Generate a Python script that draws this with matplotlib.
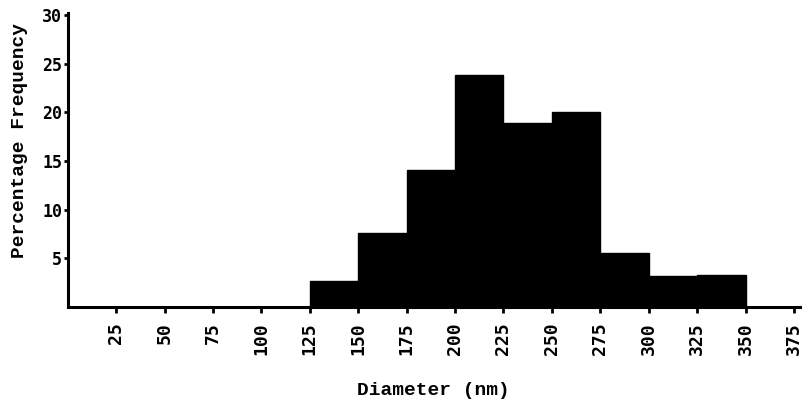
import matplotlib
matplotlib.use('Agg')
from matplotlib import pyplot as plt

# histogram bins (nm) and percentage frequency
bin_left = [125, 150, 175, 200, 225, 250, 275, 300, 325]
freq = [2.7, 7.6, 14.1, 23.8, 18.9, 20.0, 5.6, 3.2, 3.3]
xticks = [25, 50, 75, 100, 125, 150, 175, 200, 225, 250, 275, 300, 325, 350, 375]
yticks = [5, 10, 15, 20, 25, 30]

mono = 'Liberation Mono'

fig = plt.figure(figsize=(8.07, 4.04), dpi=100)
ax = fig.add_axes([0.084, 0.240, 0.907, 0.728])

ax.bar(bin_left, freq, width=25, align='edge', color='black', edgecolor='black', linewidth=1)

ax.set_xlim(0, 378)
ax.set_ylim(0, 30.2)
ax.spines['top'].set_visible(False)
ax.spines['right'].set_visible(False)
ax.spines['left'].set_linewidth(2.2)
ax.spines['bottom'].set_linewidth(2.2)

ax.set_xticks(xticks)
ax.set_xticklabels([str(t) for t in xticks], rotation=90, va='top',
                   fontfamily='DejaVu Sans Mono', fontweight='bold', fontsize=13)
ax.set_yticks(yticks)
ax.set_yticklabels([str(t) for t in yticks],
                   fontfamily='DejaVu Sans Mono', fontweight='bold', fontsize=12)
ax.tick_params(axis='x', length=4, width=2, pad=7)
ax.tick_params(axis='y', length=3, width=2, pad=1)

ax.set_xlabel('Diameter (nm)', fontfamily=mono, fontweight='bold', fontsize=14)
ax.xaxis.set_label_coords(0.5, -0.255)
ax.set_ylabel('Percentage Frequency', fontfamily=mono, fontweight='bold', fontsize=14)
ax.yaxis.set_label_coords(-0.055, 0.565)

plt.savefig('out.png', dpi=100)
